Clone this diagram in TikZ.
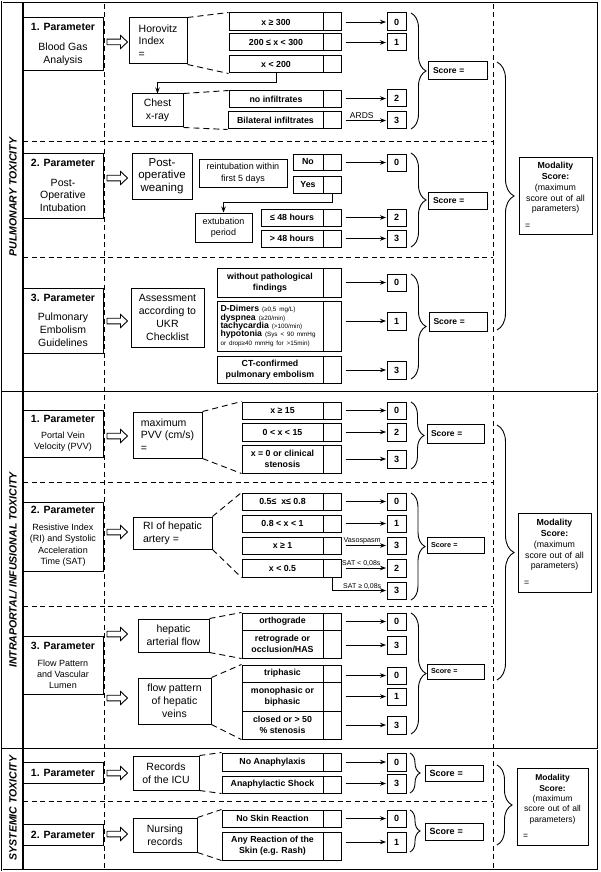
\documentclass[tikz,border=0pt]{standalone}
\usepackage{fontspec}
\setmainfont{Liberation Sans}
\usetikzlibrary{arrows.meta,decorations.pathreplacing}
\newcommand\fs[2]{\fontsize{#1}{#2}\selectfont}
\newcommand\R[6]{\pgfmathsetmacro\rx{(#3+#5)/2}\pgfmathsetmacro\ry{(#4+#6)/2}%
  \pgfmathsetmacro\rw{#5-#3}\pgfmathsetmacro\rh{#6-#4}%
  \node[#1, minimum width=\rw pt, minimum height=\rh pt] (#2) at (\rx,\ry)}
\begin{document}
\begin{tikzpicture}[x=1pt,y=-1pt,
  box/.style={draw, line width=1pt, inner sep=0pt, align=center},
  cond/.style={box, font=\fs{8.8}{11}\bfseries},
  val/.style={box, font=\fs{9}{10}\bfseries},
  par/.style={box, font=\fs{10.5}{13}},
  meth/.style={box, font=\fs{10.5}{12.8}},
  small/.style={box, font=\fs{9}{11.5}},
  scr/.style={box, align=left, text width=49pt, font=\fs{8.5}{10}\bfseries},
  mod/.style={box, align=center, text width=65pt, font=\fs{8.8}{10.8}},
  dl/.style={line width=1pt, dash pattern=on 5pt off 3.5pt},
  cl/.style={line width=0.9pt, dash pattern=on 6pt off 4pt},
  arr/.style={line width=0.8pt, -{Stealth[length=6pt,width=4.5pt]}, shorten <=4pt, shorten >=0.5pt},
  con/.style={line width=0.8pt, -{Stealth[length=6pt,width=4.5pt]}},
  lab/.style={inner sep=1.2pt},
  brc/.style={decorate, decoration={brace, amplitude=#1}, line width=0.9pt},
  hol/.style={line width=0.9pt, line join=miter, fill=white},
  rot/.style={rotate=90, font=\fs{10.5}{12}\bfseries\itshape}
]
\useasboundingbox (0,0) rectangle (600,872);
\fill[white] (0,0) rectangle (600,872);

% frame and grid
\draw[line width=0.9pt, double, double distance=1pt] (2,2) rectangle (598,870);
\draw[line width=0.9pt, double, double distance=1pt] (2,392) -- (598,392);
\draw[line width=0.9pt, double, double distance=1pt] (2,749) -- (598,749);
\draw[line width=1.2pt] (23,3) -- (23,869);
\draw[dl] (104,4) -- (104,868);
\draw[dl] (493,4) -- (493,868);
\draw[dl] (23,141) -- (493,141);
\draw[dl] (23,257) -- (493,257);
\draw[dl] (23,482) -- (493,482);
\draw[dl] (23,606) -- (493,606);
\draw[dl] (23,801) -- (493,801);

% section titles
\node[rot] (lp) at (13,197) {PULMONARY TOXICITY};
\node[rot] (li) at (13,570) {INTRAPORTAL/ INFUSIONAL TOXICITY};
\node[rot] (ls) at (13,808) {SYSTEMIC TOXICITY};

% parameters
\R{par}{p1}{23}{18}{103}{71} {\textbf{1. Parameter}\\[7pt]Blood Gas\\Analysis};
\R{par, font=\fs{10.5}{12.5}}{p2}{23}{153}{103}{218} {\textbf{2. Parameter}\\[7pt]Post-\\Operative\\Intubation};
\R{par}{p3}{23}{288}{103}{353} {\textbf{3. Parameter}\\[6pt]Pulmonary\\Embolism\\Guidelines};
\R{par, font=\fs{9}{11}}{i1}{23}{410}{103}{457} {{\fs{10.5}{13}\bfseries 1. Parameter}\\[5pt]Portal Vein\\Velocity (PVV)};
\R{par, font=\fs{9}{11.3}}{i2}{23}{502}{103}{571} {{\fs{10.5}{13}\bfseries 2. Parameter}\\[5.5pt]Resistive Index\\(RI) and Systolic\\Acceleration\\Time (SAT)};
\R{par, font=\fs{9}{11}}{i3}{23}{636}{103}{694} {{\fs{10.5}{13}\bfseries 3. Parameter}\\[6pt]Flow Pattern\\and Vascular\\Lumen};
\R{par}{s1}{23}{762}{103}{783} {\textbf{1. Parameter}};
\R{par}{s2}{23}{824}{103}{845} {\textbf{2. Parameter}};

% hollow arrows
\foreach \yy in {42,178,321,436,532,634,698,773,834}
  \draw[hol] (107,\yy-2.8) -- (120.5,\yy-2.8) -- (120.5,\yy-6.6) -- (127.5,\yy)
    -- (120.5,\yy+6.6) -- (120.5,\yy+2.8) -- (107,\yy+2.8) -- cycle;

% methods
\R{meth, align=left}{m1}{129}{18}{187}{64} {Horovitz\\Index\\=};
\R{meth}{m1b}{132}{94}{183}{127} {Chest\\x-ray};
\R{meth, font=\fs{11.5}{12.5}}{m2}{132}{153}{192}{199} {Post-\\operative\\weaning};
\R{small}{m2r}{199}{159}{287}{187} {reintubation within\\first 5 days};
\R{small}{m2e}{195}{213}{252}{242} {extubation\\period};
\R{meth}{m3}{131}{288}{204}{347} {Assessment\\according to\\UKR\\Checklist};
\R{meth, align=left}{mi1}{133}{412}{202}{458} {maximum\\PVV (cm/s)\\=};
\R{meth, align=left}{mi2}{133}{517}{212}{549} {RI of hepatic\\artery =};
\R{meth}{mi3a}{138}{619}{209}{652} {hepatic\\arterial flow};
\R{meth}{mi3b}{138}{678}{211}{724} {flow pattern\\of hepatic\\veins};
\R{meth}{ms1}{133}{756}{199}{790} {Records\\of the ICU};
\R{meth}{ms2}{133}{818}{197}{852} {Nursing\\records};

% conditions
\newcommand\cnd[5]{\R{cond}{c#1}{#2}{#3}{323}{#4} {#5};
  \R{box}{k#1}{323}{#3}{341}{#4} {};}
\cnd{1a}{229}{13}{31}{x ≥ 300}
\cnd{1b}{229}{34}{51}{200 ≤ x < 300}
\cnd{1c}{229}{56}{73}{x < 200}
\cnd{1d}{229}{91}{108}{no infiltrates}
\cnd{1e}{228}{112}{129}{Bilateral infiltrates}
\cnd{2a}{293}{154}{170}{No}
\cnd{2b}{293}{176}{193}{Yes}
\cnd{2c}{261}{209}{226}{≤ 48 hours}
\cnd{2d}{261}{230}{247}{> 48 hours}
\cnd{3a}{217}{268}{297}{without pathological\\findings}
\R{box, align=left, text width=99pt, font=\fs{8.7}{8.3}}{c3b}{217}{301}{323}{351}
  {\textbf{D-Dimers} {\fs{6.3}{7}(≥0,5 mg/L)}\\
   \textbf{dyspnea} {\fs{6.3}{7}(≥20/min)}\\
   \textbf{tachycardia} {\fs{6.3}{7}(>100/min)}\\
   \textbf{hypotonia} {\fs{6.3}{7}(Sys < 90 mmHg}\\
   {\fs{6.3}{7}or drop≥40 mmHg for >15min)}};
\R{box}{k3b}{323}{301}{341}{351} {};
\cnd{3c}{217}{356}{383}{CT-confirmed\\pulmonary embolism}
\cnd{4a}{242}{402}{419}{x ≥ 15}
\cnd{4b}{242}{423}{441}{0 < x < 15}
\cnd{4c}{242}{445}{473}{x = 0 or clinical\\stenosis}
\cnd{5a}{242}{493}{510}{0.5≤\ \ x≤ 0.8}
\cnd{5b}{242}{515}{532}{0.8 < x < 1}
\cnd{5c}{242}{537}{554}{x ≥ 1}
\cnd{5d}{242}{559}{577}{x < 0.5}
\cnd{6a}{242}{613}{630}{orthograde}
\cnd{6b}{242}{630}{658}{retrograde or\\occlusion/HAS}
\cnd{6c}{242}{665}{682}{triphasic}
\cnd{6d}{242}{682}{711}{monophasic or\\biphasic}
\cnd{6e}{242}{711}{739}{closed or > 50\\\% stenosis}
\cnd{7a}{222}{753}{771}{No Anaphylaxis}
\cnd{7b}{222}{776}{793}{Anaphylactic Shock}
\cnd{8a}{222}{810}{827}{No Skin Reaction}
\cnd{8b}{222}{832}{860}{Any Reaction of the\\Skin (e.g. Rash)}

% values
\newcommand\vbx[4]{\R{val}{v#1}{387}{#2}{406}{#3} {#4};}
\vbx{1a}{13}{31}{0}
\vbx{1b}{34}{51}{1}
\vbx{1d}{90}{107}{2}
\vbx{1e}{112}{129}{3}
\vbx{2a}{154}{171}{0}
\vbx{2c}{209}{226}{2}
\vbx{2d}{230}{247}{3}
\vbx{3a}{274}{291}{0}
\vbx{3b}{312}{330}{1}
\vbx{3c}{361}{379}{3}
\vbx{4a}{402}{419}{0}
\vbx{4b}{423}{441}{2}
\vbx{4c}{450}{468}{3}
\vbx{5a}{493}{510}{0}
\vbx{5b}{515}{532}{1}
\vbx{5c}{537}{554}{3}
\vbx{5d}{559}{577}{2}
\vbx{5e}{582}{599}{3}
\vbx{6a}{613}{630}{0}
\vbx{6b}{636}{654}{3}
\vbx{6c}{667}{684}{0}
\vbx{6d}{688}{705}{1}
\vbx{6e}{716}{734}{3}
\vbx{7a}{753}{771}{0}
\vbx{7b}{774}{793}{3}
\vbx{8a}{810}{827}{0}
\vbx{8b}{832}{852}{1}

% arrows to values
\foreach \n in {1a,1b,1d,2a,2c,2d,3a,3b,3c,4a,4b,4c,5a,5b,6a,6b,6c,6d,6e,7a,7b,8a,8b}
  \draw[arr] (k\n.east |- v\n.west) -- (v\n.west);
\draw[arr] (k1e.east |- v1e.west) -- node[above, lab, pos=.45, font=\fs{8.5}{10}] (ards) {ARDS} (v1e.west);
\draw[arr] (k5c.east |- v5c.west) -- node[above, lab, pos=.46, font=\fs{7.2}{8}] (vaso) {Vasospasm} (v5c.west);
\draw[arr] (k5d.east |- v5d.west) -- node[above, lab, pos=.44, font=\fs{7}{8}] (sat1) {SAT < 0,08s} (v5d.west);
\draw[con, shorten >=0.5pt] (k5d.south) |- node[above, lab, pos=.777, font=\fs{7}{8}] (sat2) {SAT ≥ 0,08s} (v5e.west);

% connectors
\draw[con] (c1c.south) -- ++(0,9) -| (m1b.north);
\draw[con] (k2b.south) -- ++(0,9) -| (m2e.north);

% dashed fans
\draw[cl] (m1.north east) -- (c1a.north west);
\draw[cl] (m1.south east) -- (c1c.south west);
\draw[cl] (m1b.north east) -- (c1d.north west);
\draw[cl] (m1b.south east) -- (c1e.south west);
\draw[cl] (mi1.north east) -- (c4a.north west);
\draw[cl] (mi1.south east) -- (c4c.south west);
\draw[cl] (mi2.north east) -- (c5a.north west);
\draw[cl] (mi2.south east) -- (c5d.south west);
\draw[cl] (mi3a.north east) -- (c6a.north west);
\draw[cl] (mi3a.south east) -- (c6b.south west);
\draw[cl] (mi3b.north east) -- (c6c.north west);
\draw[cl] (mi3b.south east) -- (c6e.south west);
\draw[cl] (ms1.north east) -- (c7a.north west);
\draw[cl] (ms1.south east) -- (c7b.south west);
\draw[cl] (ms2.north east) -- (c8a.north west);
\draw[cl] (ms2.south east) -- (c8b.south west);

% braces
\draw[brc=15pt] (411,13) -- (411,129);
\draw[brc=15pt] (411,153) -- (411,247);
\draw[brc=15pt] (411,274) -- (411,379);
\draw[brc=13pt] (411,402) -- (411,469);
\draw[brc=14pt] (411,493) -- (411,600);
\draw[brc=15pt] (411,613) -- (411,734);
\draw[brc=10pt] (410,753) -- (410,793);
\draw[brc=10pt] (410,810) -- (410,852);
\draw[brc=17pt] (497,62) -- (497,330);
\draw[brc=17pt] (497,425) -- (497,680);
\draw[brc=15pt] (497,765) -- (497,845);

% score boxes
\R{scr}{sc1}{428}{62}{487}{80} {Score =};
\R{scr}{sc2}{428}{192}{487}{209} {Score =};
\R{scr}{sc3}{429}{312}{487}{331} {Score =};
\R{scr}{sc4}{427}{424}{484}{443} {Score =};
\R{scr, font=\fs{7.2}{9}\bfseries}{sc5}{427}{537}{484}{553} {Score =};
\R{scr, font=\fs{7.2}{9}\bfseries}{sc6}{427}{664}{484}{679} {Score =};
\R{scr, font=\fs{9}{10}\bfseries}{sc7}{425}{765}{483}{781} {Score =};
\R{scr, font=\fs{9}{10}\bfseries}{sc8}{425}{823}{483}{840} {Score =};

% modality
\R{mod}{mo1}{519}{157}{592}{234} {\textbf{Modality}\\\textbf{Score:}\\(maximum\\score out of all\\parameters)\\[6pt]\makebox[\hsize][l]{\hspace*{2pt}=}};
\R{mod}{mo2}{518}{513}{591}{592} {\textbf{Modality}\\\textbf{Score:}\\(maximum\\score out of all\\parameters)\\[6pt]\makebox[\hsize][l]{\hspace*{2pt}=}};
\R{mod, text width=63pt, font=\fs{8.5}{10.3}}{mo3}{517}{768}{588}{845} {\textbf{Modality}\\\textbf{Score:}\\(maximum\\score out of all\\parameters)\\[6pt]\makebox[\hsize][l]{\hspace*{2pt}=}};
\end{tikzpicture}
\end{document}
